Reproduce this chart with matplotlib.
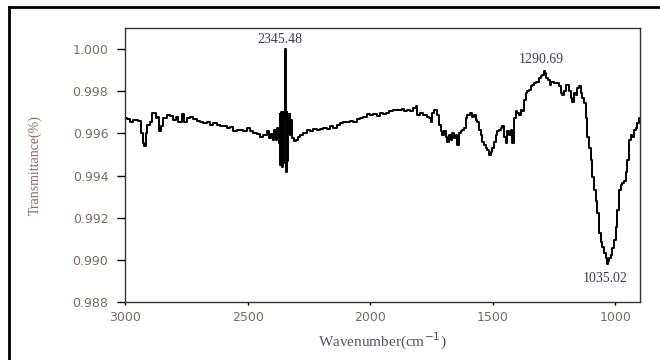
import matplotlib.pyplot as plt
from matplotlib.lines import Line2D

# FTIR spectrum (wavenumber in cm^-1, transmittance)
wavenumber = [
    3000, 2986, 2973, 2959, 2939, 2932, 2925, 2918, 2912, 2905,
    2891, 2885, 2878, 2871, 2864, 2857, 2851, 2837, 2823, 2810,
    2796, 2789, 2776, 2762, 2755, 2742, 2728, 2715, 2701, 2687,
    2674, 2660, 2647, 2633, 2620, 2606, 2592, 2579, 2565, 2552,
    2538, 2524, 2511, 2497, 2484, 2470, 2457, 2443, 2429, 2416,
    2409, 2402, 2395, 2389, 2382, 2375, 2370, 2367, 2365, 2362,
    2359, 2356, 2352, 2349, 2345.48, 2343, 2341, 2339, 2336, 2333,
    2330, 2327, 2324, 2321, 2314, 2307, 2300, 2293, 2280, 2266,
    2253, 2239, 2226, 2212, 2198, 2185, 2171, 2158, 2144, 2130,
    2117, 2103, 2090, 2076, 2063, 2049, 2035, 2022, 2008, 1995,
    1981, 1967, 1954, 1940, 1933, 1913, 1899, 1879, 1866, 1859,
    1845, 1832, 1818, 1811, 1804, 1791, 1777, 1764, 1757, 1750,
    1743, 1736, 1723, 1716, 1709, 1702, 1696, 1689, 1682, 1675,
    1668, 1662, 1655, 1648, 1641, 1635, 1628, 1621, 1614, 1607,
    1600, 1587, 1580, 1573, 1567, 1560, 1553, 1546, 1539, 1533,
    1526, 1519, 1512, 1505, 1499, 1492, 1485, 1478, 1471, 1465,
    1458, 1451, 1444, 1437, 1431, 1424, 1417, 1414, 1410, 1404,
    1397, 1390, 1383, 1376, 1370, 1363, 1356, 1349, 1342, 1336,
    1329, 1322, 1315, 1309, 1302, 1295, 1290.69, 1285, 1279, 1272,
    1265, 1258, 1247, 1234, 1227, 1220, 1213, 1206, 1200, 1193,
    1186, 1179, 1173, 1166, 1159, 1152, 1145, 1139, 1132, 1125,
    1118, 1111, 1105, 1098, 1091, 1084, 1077, 1071, 1064, 1057,
    1050, 1043, 1038, 1035.02, 1030, 1023, 1016, 1010, 1003, 996,
    989, 982, 976, 969, 962, 955, 948, 942, 935, 928,
    921, 914, 908, 901,
]
transmittance = [
    0.99672, 0.99668, 0.99656, 0.99664, 0.99661, 0.99601, 0.99554, 0.99538, 0.99601, 0.99641,
    0.99652, 0.99696, 0.99699, 0.99672, 0.99677, 0.99609, 0.99633, 0.99672, 0.99688, 0.99683,
    0.99664, 0.99680, 0.99656, 0.99691, 0.99656, 0.99672, 0.99677, 0.99668, 0.99661, 0.99656,
    0.99649, 0.99652, 0.99641, 0.99649, 0.99641, 0.99633, 0.99636, 0.99625, 0.99630, 0.99609,
    0.99617, 0.99614, 0.99609, 0.99625, 0.99609, 0.99601, 0.99596, 0.99585, 0.99593, 0.99609,
    0.99578, 0.99598, 0.99570, 0.99617, 0.99570, 0.99625, 0.99554, 0.99690, 0.99450, 0.99700,
    0.99440, 0.99700, 0.99460, 0.99690, 1.00000, 0.99430, 0.99419, 0.99700, 0.99470, 0.99690,
    0.99600, 0.99690, 0.99590, 0.99664, 0.99577, 0.99562, 0.99570, 0.99585, 0.99593, 0.99604,
    0.99617, 0.99609, 0.99620, 0.99617, 0.99620, 0.99625, 0.99620, 0.99633, 0.99625, 0.99641,
    0.99649, 0.99656, 0.99655, 0.99658, 0.99656, 0.99668, 0.99672, 0.99680, 0.99691, 0.99688,
    0.99693, 0.99683, 0.99696, 0.99693, 0.99696, 0.99704, 0.99712, 0.99709, 0.99715, 0.99704,
    0.99712, 0.99704, 0.99720, 0.99728, 0.99688, 0.99696, 0.99688, 0.99680, 0.99672, 0.99656,
    0.99696, 0.99709, 0.99688, 0.99640, 0.99609, 0.99593, 0.99609, 0.99585, 0.99561, 0.99593,
    0.99569, 0.99601, 0.99577, 0.99593, 0.99546, 0.99601, 0.99609, 0.99617, 0.99625, 0.99672,
    0.99688, 0.99696, 0.99680, 0.99688, 0.99664, 0.99656, 0.99617, 0.99593, 0.99561, 0.99546,
    0.99530, 0.99522, 0.99498, 0.99514, 0.99530, 0.99561, 0.99593, 0.99609, 0.99617, 0.99625,
    0.99633, 0.99585, 0.99553, 0.99609, 0.99593, 0.99617, 0.99553, 0.99633, 0.99672, 0.99704,
    0.99696, 0.99688, 0.99712, 0.99704, 0.99759, 0.99791, 0.99799, 0.99807, 0.99823, 0.99831,
    0.99838, 0.99842, 0.99846, 0.99862, 0.99870, 0.99878, 0.99894, 0.99886, 0.99862, 0.99854,
    0.99831, 0.99846, 0.99838, 0.99838, 0.99823, 0.99791, 0.99783, 0.99799, 0.99831, 0.99831,
    0.99799, 0.99767, 0.99751, 0.99791, 0.99783, 0.99815, 0.99823, 0.99791, 0.99767, 0.99743,
    0.99672, 0.99585, 0.99530, 0.99474, 0.99395, 0.99332, 0.99277, 0.99221, 0.99126, 0.99086,
    0.99063, 0.99031, 0.99007, 0.98980, 0.98995, 0.99007, 0.99023, 0.99055, 0.99094, 0.99158,
    0.99237, 0.99332, 0.99356, 0.99364, 0.99372, 0.99419, 0.99474, 0.99569, 0.99593, 0.99585,
    0.99617, 0.99625, 0.99648, 0.99672,
]

# labelled bands: (wavenumber, transmittance, text offset in points, vertical alignment)
peak_x = [2345.48, 1290.69, 1035.02]
peak_y = [1.00000, 0.99894, 0.98980]
peak_offset = [(-4, 2), (-2, 4), (-1, -6)]
peak_va = ['bottom', 'bottom', 'top']

fig = plt.figure(figsize=(6.6, 3.6), dpi=100)
ax = fig.add_axes([0.1894, 0.1611, 0.7803, 0.7611])

ax.plot(wavenumber, transmittance, color='black', lw=1.4, drawstyle='steps-mid')

for x, y, off, va in zip(peak_x, peak_y, peak_offset, peak_va):
    ax.annotate(f'{x:.2f}', xy=(x, y), xytext=off, textcoords='offset points',
                ha='center', va=va, fontsize=10, family='Liberation Serif',
                color='#3b3f55')

ax.set_xlim(3000, 900)
ax.set_ylim(0.988, 1.001)
ax.set_xticks([3000, 2500, 2000, 1500, 1000])
ax.set_yticks([0.988, 0.990, 0.992, 0.994, 0.996, 0.998, 1.000])
ax.set_yticklabels([f'{v:.3f}' for v in ax.get_yticks()])

ax.tick_params(axis='y', direction='out', length=6, width=1, pad=6,
               labelsize=9, labelcolor='#7d6b62')
ax.tick_params(axis='x', direction='out', length=2.5, width=1, pad=4,
               labelsize=9, labelcolor='#7d6b62')
for lab in ax.get_xticklabels() + ax.get_yticklabels():
    lab.set_family('DejaVu Sans')

for sp in ax.spines.values():
    sp.set_linewidth(1.0)
    sp.set_color('#333333')

ax.set_xlabel('Wavenumber(cm$^{-1}$)', family='Liberation Serif', fontsize=11,
              color='#55556a', labelpad=5)
ax.set_ylabel('Transmittance(%)', family='Liberation Serif', fontsize=10,
              color='#8a6a5e', labelpad=22)

# frame around the figure (left and top edges)
fig.add_artist(Line2D([9 / 660, 9 / 660], [0, 1 - 7 / 360], transform=fig.transFigure,
                      color='black', lw=2))
fig.add_artist(Line2D([9 / 660, 1], [1 - 7 / 360, 1 - 7 / 360], transform=fig.transFigure,
                      color='black', lw=2))

fig.savefig('out.png', dpi=100)
